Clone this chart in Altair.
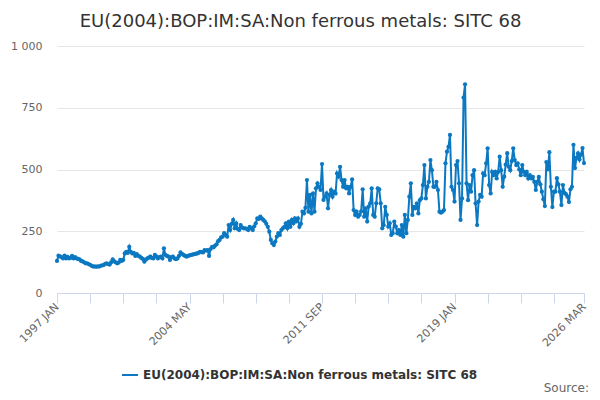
import pandas as pd
import altair as alt

series_name = "EU(2004):BOP:IM:SA:Non ferrous metals: SITC 68"

# monthly values, 1997 JAN .. 2026 MAR
values = [
    130, 151, 148, 145, 140, 151, 140, 146, 140, 142, 150, 140, 145,
    140, 138, 136, 130, 128, 124, 120, 120, 117, 114, 110,
    107, 108, 106, 108, 107, 110, 112, 113, 118, 120, 117, 115,
    125, 136, 128, 124, 120, 123, 134, 130, 134, 160, 167, 162,
    187, 167, 160, 162, 150,
    157, 150, 147, 142, 138, 127, 135, 140, 143, 147, 142, 140,
    154, 148, 140, 145, 147, 140, 181, 154, 150, 147, 134,
    145, 147, 140, 137, 140, 150, 164, 158, 154, 150, 147, 150,
    152, 154, 155, 157, 158, 160, 162, 167, 165, 164, 174, 172,
    174, 150, 178, 187, 185, 192, 197,
    210, 215, 225, 228, 242, 235, 228, 275, 255, 280, 296,
    262, 282, 260, 255, 275, 265, 262, 262, 260, 255, 268, 262,
    255, 270, 282, 302, 300, 309, 302, 296, 290, 280, 268, 248,
    215, 201, 194, 208, 228, 242, 235, 255, 262, 268, 282, 262,
    289, 268, 296, 282, 302,
    290, 302, 268, 280, 329, 322, 345,
    457, 329, 397, 322, 403, 329, 424, 444, 430, 417,
    522, 377, 390, 403, 343, 397, 417, 390, 410, 403,
    484, 471, 511, 457, 430, 457, 424, 430, 403, 430,
    460, 336, 316, 329, 309, 316, 330, 420, 309, 343,
    289, 350, 363, 424, 316, 309, 363, 424, 420, 363,
    262, 275, 349, 316, 269, 282, 235, 242, 289, 269,
    242, 255, 235, 275, 228, 316, 242, 296, 390, 444,
    316, 349, 343, 363, 322, 376, 383, 437, 518, 383,
    430, 450, 538, 497, 430, 430, 450, 417, 329, 325,
    329, 336, 525, 572, 592, 640, 430, 417, 370, 518,
    534, 444, 296, 383, 791, 845, 444, 376, 437, 410,
    477, 497, 363, 275, 370, 397, 390, 484, 477, 525,
    586, 437, 403, 490, 477, 490, 464, 490, 552, 497,
    430, 471, 520, 566, 511, 497, 534, 586, 538, 518,
    525, 500, 477, 518, 490, 477, 490, 464, 477, 464,
    470, 450, 417, 450, 470, 440, 410, 380, 352, 530,
    500, 570, 430, 348, 410, 410, 465, 440, 410, 356,
    437, 405, 400, 390, 368, 420, 430, 600, 506, 547,
    565, 540, 560, 587, 526,
]

months = [d.strftime("%Y %b").upper() for d in pd.date_range("1997-01-01", periods=len(values), freq="MS")]

tick_idx = list(range(0, 331, 22)) + [len(values) - 1]
label_idx = [0, 88, 176, 264, len(values) - 1]
label_txt = [months[i] for i in label_idx]

df = pd.DataFrame({"idx": range(len(values)), "month": months, "value": values, "series": series_name})

label_expr = (
    "indexof(%s, datum.value) >= 0 ? %s[indexof(%s, datum.value)] : ''"
    % (str(label_idx), str(label_txt), str(label_idx))
)

blue = "#0b78c1"

line = alt.Chart(df).mark_line(
    strokeWidth=2,
    point=alt.OverlayMarkDef(size=18, filled=True, opacity=1),
).encode(
    alt.X("idx:Q",
          scale=alt.Scale(domain=[0, len(values) - 1], nice=False, zero=False),
          axis=alt.Axis(values=tick_idx, labelExpr=label_expr, labelAngle=315,
                        labelAlign="right", labelBaseline="middle", labelPadding=2,
                        tickSize=10, tickColor="#ccd6eb", domainColor="#ccd6eb",
                        grid=False, title=None, labelFontSize=11, labelColor="#666666",
                        labelOverlap=False)),
    alt.Y("value:Q",
          scale=alt.Scale(domain=[0, 1000], nice=False),
          axis=alt.Axis(values=[0, 250, 500, 750, 1000],
                        labelExpr="replace(format(datum.value, ','), ',', ' ')",
                        domain=False, ticks=False, gridColor="#e6e6e6",
                        labelPadding=15, labelFontSize=11, labelColor="#666666", title=None)),
    alt.Color("series:N", scale=alt.Scale(range=[blue]),
              legend=alt.Legend(title=None, orient="none", legendX=64, legendY=320,
                                symbolType="stroke", symbolSize=256, symbolStrokeWidth=2,
                                labelFontSize=12, labelFontWeight="bold", labelColor="#333333",
                                labelLimit=0)),
    tooltip=["month", "value"],
)

source = alt.Chart(pd.DataFrame({"t": ["Source:"]})).mark_text(
    align="right", baseline="middle", fontSize=12, color="#666666"
).encode(x=alt.value(532), y=alt.value(342), text="t:N")

chart = alt.layer(line, source).properties(
    width=527,
    height=247,
    autosize=alt.AutoSizeParams(type="none"),
    padding={"left": 49, "top": 38, "right": 8, "bottom": 104},
    title=alt.TitleParams(series_name, fontSize=18, fontWeight="normal", color="#333333",
                          anchor="middle", dx=-20, offset=9),
).configure(
    font="DejaVu Sans",
).configure_view(
    stroke=None
)

chart.save("out.html", embed_options={"renderer": "svg", "actions": False})
